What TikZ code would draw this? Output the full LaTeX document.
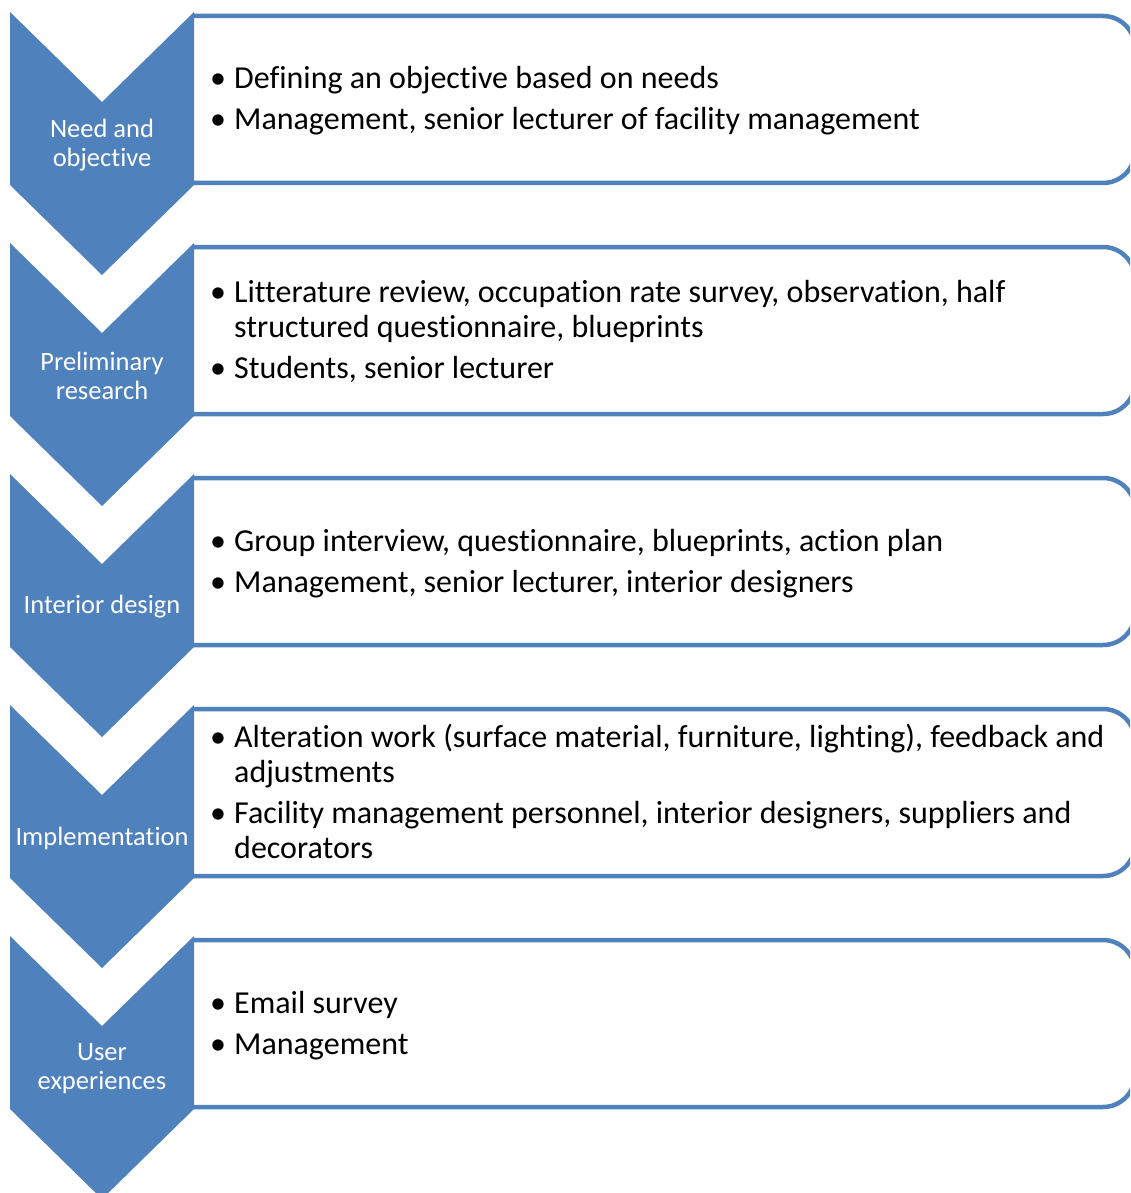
\documentclass[tikz,border=0pt]{standalone}
\usepackage{fontspec}
\setmainfont{Carlito}[Ligatures=NoCommon]
\definecolor{accent}{RGB}{79,129,189}
\tikzset{
  stagechev/.style={fill=accent},
  stagebox/.style={draw=accent, line width=4.5pt, fill=white, rounded corners=32pt},
  chevlabel/.style={text=white, inner sep=0pt, align=center,
    font=\fontsize{26.5}{29}\selectfont},
  itemlist/.style={anchor=west, inner sep=0pt, align=left,
    font=\fontsize{32}{35}\selectfont}
}
% down-pointing chevron whose top edge lies at y = #1
\newcommand\stagechevron[1]{%
  \fill[stagechev] (10,#1) -- (102,#1+90) -- (194,#1) -- (194,#1+173)
    -- (102,#1+263) -- (10,#1+173) -- cycle;}
% box with rounded right corners, top edge at y = #1
\newcommand\stageframe[1]{%
  \draw[stagebox] (193,#1) -- (1135,#1) -- (1135,#1+167) -- (193,#1+167);}
\newcommand\bul{\makebox[24pt][l]{\textbullet}}
\begin{document}
\begin{tikzpicture}[x=1pt,y=-1pt]
  \useasboundingbox (0,0) rectangle (1130,1193);
  \clip (0,0) rectangle (1130,1193);

  % boxes
  \stageframe{16}
  \stageframe{247}
  \stageframe{478}
  \stageframe{709}
  \stageframe{940}

  % chevrons
  \stagechevron{12}
  \stagechevron{243}
  \stagechevron{474}
  \stagechevron{705}
  \stagechevron{936}

  % chevron labels
  \node[chevlabel] (c1) at (102,145) {Need and\\objective};
  \node[chevlabel] (c2) at (102,376) {Preliminary\\research};
  \node[chevlabel] (c3) at (102,607) {Interior design};
  \node[chevlabel] (c4) at (102,838) {Implementation};
  \node[chevlabel] (c5) at (102,1069) {User\\experiences};

  % box contents
  \node[itemlist] (t1) at (210,102.5) {\begin{tabular}{@{}l@{}l@{}}
    \bul & Defining an objective based on needs\\[6pt]
    \bul & Management, senior lecturer of facility management
  \end{tabular}};
  \node[itemlist] (t2) at (210,333.5) {\begin{tabular}{@{}l@{}l@{}}
    \bul & Litterature review, occupation rate survey, observation, half\\
         & structured questionnaire, blueprints\\[6pt]
    \bul & Students, senior lecturer
  \end{tabular}};
  \node[itemlist] (t3) at (210,564.5) {\begin{tabular}{@{}l@{}l@{}}
    \bul & Group interview, questionnaire, blueprints, action plan\\[6pt]
    \bul & Management, senior lecturer, interior designers
  \end{tabular}};
  \node[itemlist] (t4) at (210,795.5) {\begin{tabular}{@{}l@{}l@{}}
    \bul & Alteration work (surface material, furniture, lighting), feedback and\\
         & adjustments\\[6pt]
    \bul & Facility management personnel, interior designers, suppliers and\\
         & decorators
  \end{tabular}};
  \node[itemlist] (t5) at (210,1026.5) {\begin{tabular}{@{}l@{}l@{}}
    \bul & Email survey\\[6pt]
    \bul & Management
  \end{tabular}};
\end{tikzpicture}
\end{document}
